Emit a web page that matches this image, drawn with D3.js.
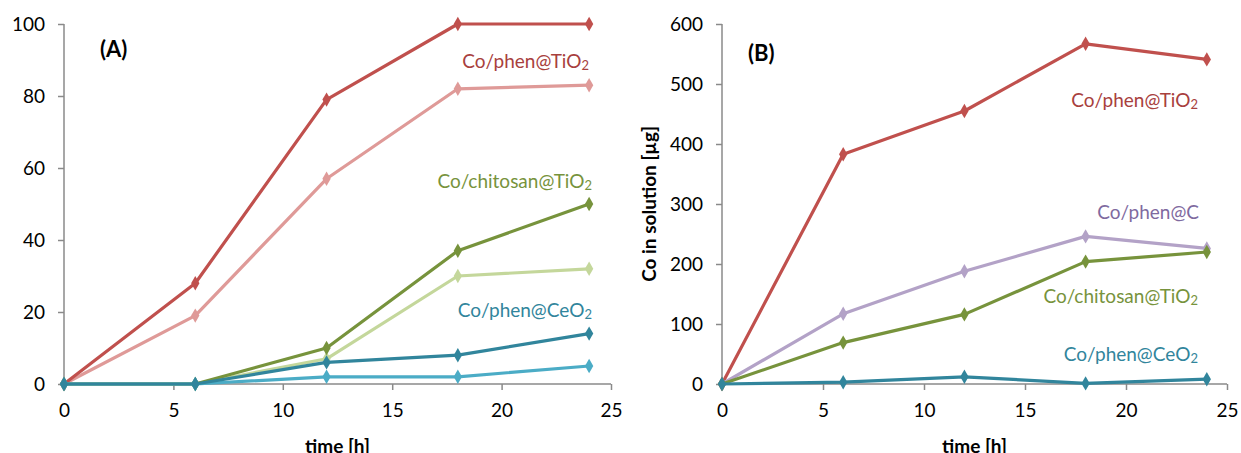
<!DOCTYPE html>
<html>
<head>
<meta charset="utf-8">
<style>
  body { margin: 0; background: #fff; }
  svg { font-family: Lato, "Open Sans", sans-serif; }
</style>
</head>
<body>
<svg width="1241" height="453"></svg>
<script src="https://d3js.org/d3.v7.min.js"></script>
<script>

var hours = [0, 6, 12, 18, 24];
var xTicks = [0, 5, 10, 15, 20, 25];

// panel A
var aPhenTiO2 = [0, 28, 79, 100, 100];
var aPhenTiO2b = [0, 19, 57, 82, 83];
var aChitTiO2 = [0, 0, 10, 37, 50];
var aChitTiO2b = [0, 0, 7, 30, 32];
var aPhenCeO2 = [0, 0, 6, 8, 14];
var aPhenCeO2b = [0, 0, 2, 2, 5];
var aTicks = [0, 20, 40, 60, 80, 100];

// panel B
var bPhenTiO2 = [0, 383, 455, 567, 541];
var bPhenC = [0, 117, 188, 246, 226];
var bChitTiO2 = [0, 69, 116, 204, 220];
var bPhenCeO2 = [0, 3, 12, 1, 8];
var bTicks = [0, 100, 200, 300, 400, 500, 600];

var svg = d3.select("svg");

function panel(opt) {
  var x = d3.scaleLinear().domain([0, 25]).range([opt.left, opt.right]);
  var y = d3.scaleLinear().domain([0, opt.max]).range([384, 24]);
  var g = svg.append("g");

  var xa = g.append("g").attr("transform", "translate(0,384)")
      .call(d3.axisBottom(x).tickValues(xTicks).tickSize(6).tickPadding(14));
  var ya = g.append("g").attr("transform", "translate(" + opt.left + ",0)")
      .call(d3.axisLeft(y).tickValues(opt.ticks).tickSize(6).tickPadding(13));
  [xa, ya].forEach(function(a) {
    a.selectAll("path, line").attr("stroke", "#8a8a8a").attr("stroke-width", 1.5);
    a.selectAll("text").attr("font-size", 19).attr("fill", "#000")
      .attr("font-family", "Lato, sans-serif");
  });
  ya.select(".domain").attr("d", "M0,384V24");
  xa.select(".domain").attr("d", "M" + opt.left + ",0H" + opt.right);

  g.append("text").attr("x", (opt.left + opt.right) / 2).attr("y", 453)
    .attr("text-anchor", "middle").attr("font-weight", "bold").attr("font-size", 19)
    .text("time [h]");

  if (opt.ylabel) {
    g.append("text")
      .attr("transform", "translate(" + (opt.left - 66) + ",204) rotate(-90)")
      .attr("text-anchor", "middle").attr("font-weight", "bold").attr("font-size", 19)
      .text(opt.ylabel);
  }

  g.append("text").attr("x", opt.tagX).attr("y", opt.tagY)
    .attr("font-weight", "bold").attr("font-size", 22).text(opt.tag);

  var line = d3.line().x(function(d, i) { return x(hours[i]); }).y(function(d) { return y(d); });
  var diamond = d3.symbol().type(d3.symbolDiamond).size(60);

  opt.series.forEach(function(s) {
    g.append("path").datum(s.values).attr("d", line)
      .attr("fill", "none").attr("stroke", s.color).attr("stroke-width", 3.2)
      .attr("stroke-linejoin", "round");
    g.selectAll(null).data(s.values).enter().append("path")
      .attr("d", diamond)
      .attr("transform", function(d, i) { return "translate(" + x(hours[i]) + "," + y(d) + ")"; })
      .attr("fill", s.color);
  });

  opt.labels.forEach(function(l) {
    var t = g.append("text").attr("x", l.x).attr("y", l.y)
      .attr("text-anchor", "end").attr("font-size", 19).attr("fill", l.color);
    t.append("tspan").text(l.text);
    if (l.sub) {
      t.append("tspan").attr("font-size", 13).attr("dy", 2).text(l.sub);
    }
  });
}

panel({
  left: 64, right: 611, max: 100, ticks: aTicks, tag: "(A)", tagX: 100, tagY: 57,
  series: [
    {values: aPhenTiO2b, color: "#df9a98"},
    {values: aPhenTiO2, color: "#c0504d"},
    {values: aChitTiO2b, color: "#c4d79b"},
    {values: aChitTiO2, color: "#77933c"},
    {values: aPhenCeO2b, color: "#4bacc6"},
    {values: aPhenCeO2, color: "#31859c"}
  ],
  labels: [
    {text: "Co/phen@TiO", sub: "2", x: 589, y: 68, color: "#a8403d"},
    {text: "Co/chitosan@TiO", sub: "2", x: 592, y: 188, color: "#77933c"},
    {text: "Co/phen@CeO", sub: "2", x: 592, y: 317, color: "#31859c"}
  ],
});

panel({
  left: 722, right: 1227, max: 600, ticks: bTicks, tag: "(B)", tagX: 748, tagY: 61,
  ylabel: "Co in solution [µg]",
  series: [
    {values: bPhenTiO2, color: "#c0504d"},
    {values: bPhenC, color: "#b3a2c7"},
    {values: bChitTiO2, color: "#77933c"},
    {values: bPhenCeO2, color: "#31859c"}
  ],
  labels: [
    {text: "Co/phen@TiO", sub: "2", x: 1198, y: 107, color: "#a8403d"},
    {text: "Co/phen@C", x: 1199, y: 219, color: "#7f6a9f"},
    {text: "Co/chitosan@TiO", sub: "2", x: 1198, y: 303, color: "#77933c"},
    {text: "Co/phen@CeO", sub: "2", x: 1198, y: 361, color: "#31859c"}
  ]
});

</script>
</body>
</html>
